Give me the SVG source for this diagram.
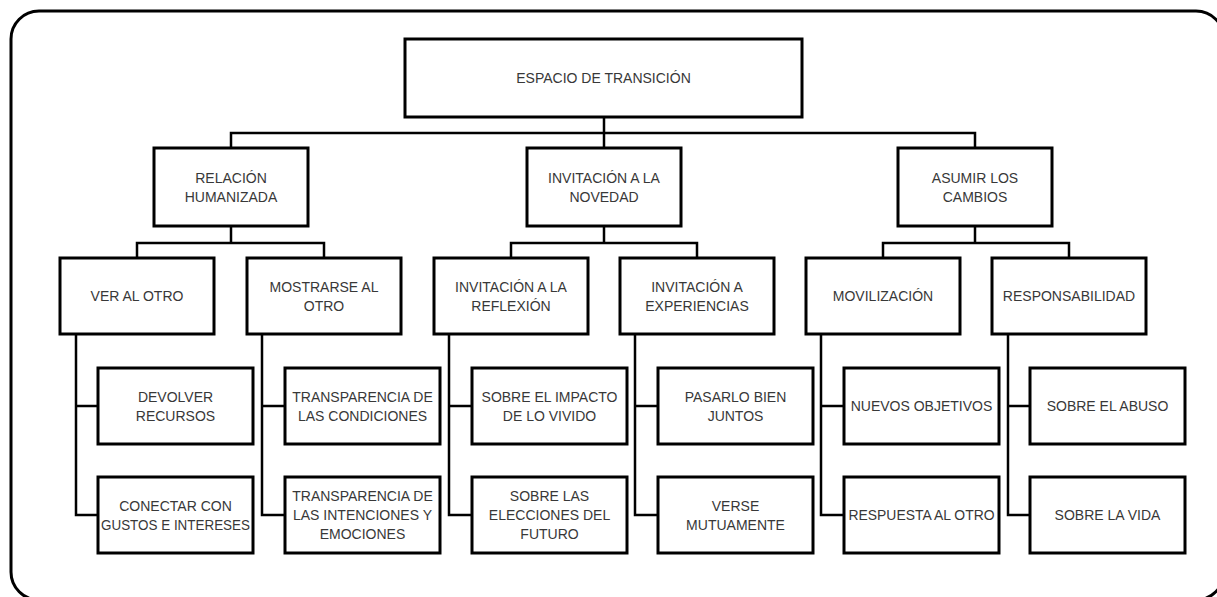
<svg xmlns="http://www.w3.org/2000/svg" width="1217" height="597" viewBox="0 0 1217 597">
  <style>
    .frame { fill: #ffffff; stroke: #000000; stroke-width: 3; }
    .box { fill: #ffffff; stroke: #000000; stroke-width: 3; }
    .link { fill: none; stroke: #000000; stroke-width: 2.5; stroke-linejoin: miter; }
    .label { font-family: "Liberation Sans", Arial, sans-serif; font-size: 14px; fill: #383838; text-anchor: middle; }
  </style>

  <rect width="1217" height="597" fill="#ffffff"/>
  <rect class="frame" x="11" y="11" width="1213" height="589" rx="28" ry="28"/>

  <!-- connectors -->
  <g id="connectors">
    <!-- root to first level -->
    <path class="link" d="M604 117 V148 M231 148 V133 H975 V148"/>
    <!-- first level to second level -->
    <path class="link" d="M231 226 V243 M137 258 V243 H324 V258"/>
    <path class="link" d="M604 226 V243 M511 258 V243 H697 V258"/>
    <path class="link" d="M975 226 V243 M883 258 V243 H1069 V258"/>
    <!-- second level to leaves -->
    <path class="link" d="M76 334 V515 H98 M76 406 H98"/>
    <path class="link" d="M262 334 V515 H285 M262 406 H285"/>
    <path class="link" d="M449 334 V515 H472 M449 406 H472"/>
    <path class="link" d="M635 334 V515 H658 M635 406 H658"/>
    <path class="link" d="M821 334 V515 H844 M821 406 H844"/>
    <path class="link" d="M1008 334 V515 H1030 M1008 406 H1030"/>
  </g>

  <!-- root -->
  <g id="espacio-transicion">
    <rect class="box" x="405" y="39" width="397" height="78"/>
    <text class="label" x="603.5" y="83">ESPACIO DE TRANSICIÓN</text>
  </g>

  <!-- first level -->
  <g id="relacion-humanizada">
    <rect class="box" x="154" y="148" width="154" height="78"/>
    <text class="label" x="231" y="182.5">RELACIÓN</text>
    <text class="label" x="231" y="201.5">HUMANIZADA</text>
  </g>
  <g id="invitacion-novedad">
    <rect class="box" x="527" y="148" width="154" height="78"/>
    <text class="label" x="604" y="182.5">INVITACIÓN A LA</text>
    <text class="label" x="604" y="201.5">NOVEDAD</text>
  </g>
  <g id="asumir-cambios">
    <rect class="box" x="898" y="148" width="154" height="78"/>
    <text class="label" x="975" y="182.5">ASUMIR LOS</text>
    <text class="label" x="975" y="201.5">CAMBIOS</text>
  </g>

  <!-- second level -->
  <g id="ver-otro">
    <rect class="box" x="60" y="258" width="154" height="76"/>
    <text class="label" x="137" y="301">VER AL OTRO</text>
  </g>
  <g id="mostrarse-otro">
    <rect class="box" x="247" y="258" width="154" height="76"/>
    <text class="label" x="324" y="291.5">MOSTRARSE AL</text>
    <text class="label" x="324" y="310.5">OTRO</text>
  </g>
  <g id="invitacion-reflexion">
    <rect class="box" x="434" y="258" width="154" height="76"/>
    <text class="label" x="511" y="291.5">INVITACIÓN A LA</text>
    <text class="label" x="511" y="310.5">REFLEXIÓN</text>
  </g>
  <g id="invitacion-experiencias">
    <rect class="box" x="620" y="258" width="154" height="76"/>
    <text class="label" x="697" y="291.5">INVITACIÓN A</text>
    <text class="label" x="697" y="310.5">EXPERIENCIAS</text>
  </g>
  <g id="movilizacion">
    <rect class="box" x="806" y="258" width="154" height="76"/>
    <text class="label" x="883" y="301">MOVILIZACIÓN</text>
  </g>
  <g id="responsabilidad">
    <rect class="box" x="992" y="258" width="154" height="76"/>
    <text class="label" x="1069" y="301">RESPONSABILIDAD</text>
  </g>

  <!-- leaves -->
  <g id="devolver-recursos">
    <rect class="box" x="98" y="368" width="155" height="76"/>
    <text class="label" x="175.5" y="401.5">DEVOLVER</text>
    <text class="label" x="175.5" y="420.5">RECURSOS</text>
  </g>
  <g id="conectar-gustos">
    <rect class="box" x="98" y="477" width="155" height="76"/>
    <text class="label" x="175.5" y="510.5">CONECTAR CON</text>
    <text class="label" x="175.5" y="529.5" textLength="149" lengthAdjust="spacingAndGlyphs">GUSTOS E INTERESES</text>
  </g>
  <g id="transparencia-condiciones">
    <rect class="box" x="285" y="368" width="155" height="76"/>
    <text class="label" x="362.5" y="401.5">TRANSPARENCIA DE</text>
    <text class="label" x="362.5" y="420.5">LAS CONDICIONES</text>
  </g>
  <g id="transparencia-intenciones">
    <rect class="box" x="285" y="477" width="155" height="76"/>
    <text class="label" x="362.5" y="501">TRANSPARENCIA DE</text>
    <text class="label" x="362.5" y="520">LAS INTENCIONES Y</text>
    <text class="label" x="362.5" y="539">EMOCIONES</text>
  </g>
  <g id="impacto-vivido">
    <rect class="box" x="472" y="368" width="155" height="76"/>
    <text class="label" x="549.5" y="401.5">SOBRE EL IMPACTO</text>
    <text class="label" x="549.5" y="420.5">DE LO VIVIDO</text>
  </g>
  <g id="elecciones-futuro">
    <rect class="box" x="472" y="477" width="155" height="76"/>
    <text class="label" x="549.5" y="501">SOBRE LAS</text>
    <text class="label" x="549.5" y="520">ELECCIONES DEL</text>
    <text class="label" x="549.5" y="539">FUTURO</text>
  </g>
  <g id="pasarlo-bien">
    <rect class="box" x="658" y="368" width="155" height="76"/>
    <text class="label" x="735.5" y="401.5">PASARLO BIEN</text>
    <text class="label" x="735.5" y="420.5">JUNTOS</text>
  </g>
  <g id="verse-mutuamente">
    <rect class="box" x="658" y="477" width="155" height="76"/>
    <text class="label" x="735.5" y="510.5">VERSE</text>
    <text class="label" x="735.5" y="529.5">MUTUAMENTE</text>
  </g>
  <g id="nuevos-objetivos">
    <rect class="box" x="844" y="368" width="155" height="76"/>
    <text class="label" x="921.5" y="411">NUEVOS OBJETIVOS</text>
  </g>
  <g id="respuesta-otro">
    <rect class="box" x="844" y="477" width="155" height="76"/>
    <text class="label" x="921.5" y="520" textLength="146" lengthAdjust="spacingAndGlyphs">RESPUESTA AL OTRO</text>
  </g>
  <g id="sobre-abuso">
    <rect class="box" x="1030" y="368" width="155" height="76"/>
    <text class="label" x="1107.5" y="411">SOBRE EL ABUSO</text>
  </g>
  <g id="sobre-vida">
    <rect class="box" x="1030" y="477" width="155" height="76"/>
    <text class="label" x="1107.5" y="520">SOBRE LA VIDA</text>
  </g>
</svg>
